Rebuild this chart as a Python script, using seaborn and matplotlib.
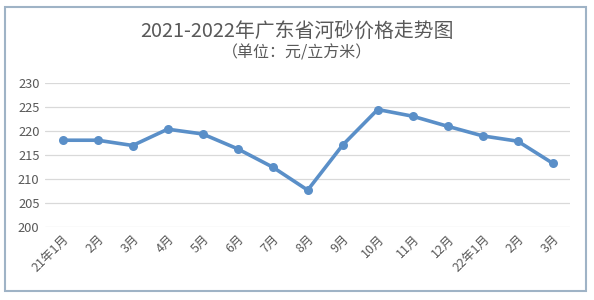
import matplotlib
matplotlib.use("Agg")
import matplotlib.pyplot as plt
import seaborn as sns
import pandas as pd
from matplotlib.patches import Rectangle

months = ["21年1月", "2月", "3月", "4月", "5月", "6月", "7月", "8月", "9月",
          "10月", "11月", "12月", "22年1月", "2月", "3月"]
prices = [218.1, 218.1, 217.0, 220.4, 219.4, 216.3, 212.5, 207.7, 217.1,
          224.5, 223.1, 221.0, 219.0, 217.9, 213.3]
y_ticks = [200, 205, 210, 215, 220, 225, 230]

sns.set_style("white")
plt.rcParams["font.family"] = ["Noto Sans CJK SC", "DejaVu Sans"]

df = pd.DataFrame({"idx": range(len(months)), "price": prices})

fig = plt.figure(figsize=(5.94, 3.0), dpi=100)
ax = fig.add_axes([0.076, 0.243, 0.884, 0.48])
sns.lineplot(data=df, x="idx", y="price", ax=ax, color="#5a8fc8", linewidth=2.6,
             marker="o", markersize=6.5, markeredgewidth=0, markerfacecolor="#5a8fc8")
ax.set_xlim(-0.5, len(months) - 0.5)
ax.set_ylim(200, 230)
ax.set_yticks(y_ticks)
ax.set_yticklabels([str(v) for v in y_ticks], color="#595959", fontsize=9.3)
ax.set_xticks(range(len(months)))
ax.set_xticklabels(months, rotation=45, ha="right", rotation_mode="anchor",
                   color="#595959", fontsize=9)
ax.yaxis.grid(True, color="#d9d9d9", linewidth=0.9)
ax.xaxis.grid(False)
for s in ax.spines.values():
    s.set_visible(False)
ax.tick_params(axis="both", length=0, pad=4)
ax.set_xlabel("")
ax.set_ylabel("")

fig.text(0.5, 0.897, "2021-2022年广东省河砂价格走势图", ha="center", va="center",
         fontsize=14.3, color="#595959")
fig.text(0.5, 0.825, "（单位：元/立方米）", ha="center", va="center",
         fontsize=11.5, color="#595959")

fig.patches.append(Rectangle((5 / 594, 1 - 291 / 300), 581 / 594, 284 / 300,
                             transform=fig.transFigure, fill=False,
                             edgecolor="#9fb3c6", linewidth=1.5))

fig.savefig("out.png", dpi=100)
